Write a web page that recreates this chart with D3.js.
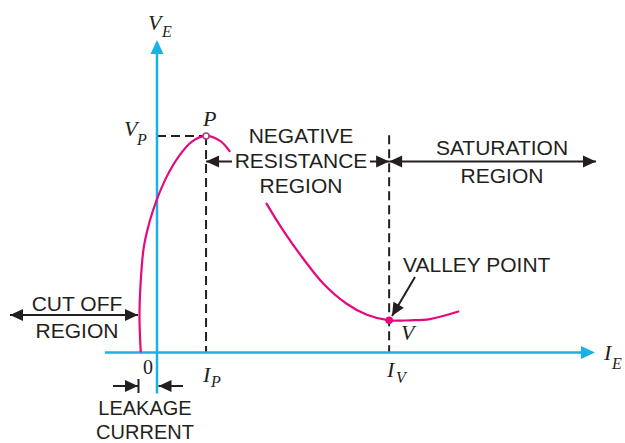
<!DOCTYPE html>
<meta charset="utf-8">
<script src="https://d3js.org/d3.v7.min.js"></script>
<style>
  body { margin: 0; background: #fff; }
  .lbl { font-family: "Liberation Sans", Arial, sans-serif; font-size: 21px; fill: #231f20; }
  .math { font-family: "Liberation Serif", "Times New Roman", serif; font-style: italic; fill: #231f20; }
</style>
<div id="my_dataviz"></div>
<script>

// UJT characteristic, emitter current I_E (x) vs emitter voltage V_E (y), arbitrary units 0..100
var curveRise = [
  [-3.7, 0], [-4.0, 11.3], [-3.7, 23.1], [-3.0, 33.8], [-1.6, 42.3], [-0.1, 48.7],
  [2.2, 56.2], [4.9, 62.6], [7.9, 67.4], [11.2, 69.3], [14.4, 67.7], [16.7, 64.2]
];
var curveFall = [
  [24.9, 47.9], [28.8, 39.1], [33.4, 30.0], [38.0, 22.0], [43.3, 15.6], [47.9, 12.1],
  [53.0, 10.3], [57.8, 10.3], [62.3, 10.7], [69.0, 13.2]
];
var peakPoint = [11.2, 69.3];     // P  (I_P, V_P)
var valleyPoint = [53.0, 10.3];   // V  (I_V, V_V)
var axisExtentX = [-11.9, 100];
var axisExtentY = [-13.1, 100];

var negLines = ["NEGATIVE", "RESISTANCE", "REGION"];
var satLines = ["SATURATION", "REGION"];
var cutLines = ["CUT OFF", "REGION"];
var leakLines = ["LEAKAGE", "CURRENT"];

var width = 625, height = 443;
var pink = "#e5097f", blue = "#1bb1e7", ink = "#231f20";

var svg = d3.select("#my_dataviz")
  .append("svg")
    .attr("width", width)
    .attr("height", height);

var x = d3.scaleLinear().domain([0, 100]).range([157, 595]);
var y = d3.scaleLinear().domain([0, 100]).range([352.5, 40]);

// filled arrow head with tip at (tx,ty) pointing along angle
function head(tx, ty, ang, len, hw, color) {
  var c = Math.cos(ang), s = Math.sin(ang);
  var bx = tx - c * len, by = ty - s * len;
  svg.append("path")
    .attr("d", "M" + tx + "," + ty +
      "L" + (bx - s * hw) + "," + (by + c * hw) +
      "L" + (bx + s * hw) + "," + (by - c * hw) + "Z")
    .attr("fill", color);
}
function arrowLine(x1, y1, x2, y2, startHead, endHead) {
  svg.append("line")
    .attr("x1", x1).attr("y1", y1).attr("x2", x2).attr("y2", y2)
    .attr("stroke", ink).attr("stroke-width", 2);
  var ang = Math.atan2(y2 - y1, x2 - x1);
  if (endHead) head(x2, y2, ang, 13, 6, ink);
  if (startHead) head(x1, y1, ang + Math.PI, 13, 6, ink);
}

// dashed guides
svg.append("line")
  .attr("x1", x(0)).attr("x2", x(peakPoint[0]))
  .attr("y1", y(peakPoint[1])).attr("y2", y(peakPoint[1]))
  .attr("stroke", ink).attr("stroke-width", 2).attr("stroke-dasharray", "9,5");
svg.append("line")
  .attr("x1", x(peakPoint[0])).attr("x2", x(peakPoint[0]))
  .attr("y1", y(peakPoint[1])).attr("y2", y(0))
  .attr("stroke", ink).attr("stroke-width", 2).attr("stroke-dasharray", "9,5");
svg.append("line")
  .attr("x1", x(valleyPoint[0])).attr("x2", x(valleyPoint[0]))
  .attr("y1", y(69.5)).attr("y2", y(0))
  .attr("stroke", ink).attr("stroke-width", 2).attr("stroke-dasharray", "9,5");

// axes
svg.append("line")
  .attr("x1", x(axisExtentX[0])).attr("x2", x(axisExtentX[1]) - 10)
  .attr("y1", y(0)).attr("y2", y(0))
  .attr("stroke", blue).attr("stroke-width", 2.5);
head(x(axisExtentX[1]), y(0), 0, 14, 6.5, blue);
svg.append("line")
  .attr("x1", x(0)).attr("x2", x(0))
  .attr("y1", y(axisExtentY[0])).attr("y2", y(axisExtentY[1]) + 10)
  .attr("stroke", blue).attr("stroke-width", 2.5);
head(x(0), y(axisExtentY[1]), -Math.PI / 2, 14, 6.5, blue);

// characteristic curve (broken where the label sits)
var line = d3.line()
  .x(function(d) { return x(d[0]); })
  .y(function(d) { return y(d[1]); })
  .curve(d3.curveCatmullRom.alpha(0.5));
[curveRise, curveFall].forEach(function(seg) {
  svg.append("path")
    .attr("d", line(seg))
    .attr("fill", "none")
    .attr("stroke", pink)
    .attr("stroke-width", 2.2);
});

svg.append("circle")
  .attr("cx", x(peakPoint[0])).attr("cy", y(peakPoint[1])).attr("r", 3)
  .attr("fill", "#fff").attr("stroke", "#a3407f").attr("stroke-width", 1.5);
svg.append("circle")
  .attr("cx", x(valleyPoint[0])).attr("cy", y(valleyPoint[1])).attr("r", 3.8)
  .attr("fill", pink);

// region arrows
arrowLine(232, 161.5, x(peakPoint[0]), 161.5, false, true);
arrowLine(370, 161.5, x(valleyPoint[0]), 161.5, false, true);
arrowLine(x(valleyPoint[0]), 161.5, 596, 161.5, true, true);
arrowLine(10, 315, 138, 315, true, true);
arrowLine(415, 277, 392, 316, false, true);
// leakage arrows
arrowLine(113, 386, 138, 386, false, true);
svg.append("line").attr("x1", 138.5).attr("x2", 138.5).attr("y1", 379).attr("y2", 393)
  .attr("stroke", ink).attr("stroke-width", 2);
arrowLine(183, 386, 158.5, 386, false, true);

// text blocks
function block(lines, cx, y0, dy, size) {
  svg.append("g").selectAll("text").data(lines).enter().append("text")
    .attr("class", "lbl")
    .attr("text-anchor", "middle")
    .attr("x", cx)
    .attr("y", function(d, i) { return y0 + i * dy; })
    .style("font-size", (size || 21) + "px")
    .text(function(d) { return d; });
}
block(negLines, 301, 143, 25);
block(satLines, 502, 155, 28);
block(cutLines, 77, 311, 27);
block(leakLines, 145, 415, 24, 20);
svg.append("text").attr("class", "lbl").attr("x", 403).attr("y", 272).text("VALLEY POINT");

// math labels
function mathLabel(main, sub, mx, my, sx, sy) {
  svg.append("text").attr("class", "math").attr("font-size", 22)
    .attr("x", mx).attr("y", my).text(main);
  if (sub) svg.append("text").attr("class", "math").attr("font-size", 16)
    .attr("x", sx).attr("y", sy).text(sub);
}
mathLabel("V", "E", 148, 30, 162, 37);
mathLabel("V", "P", 124, 136, 137, 145);
mathLabel("P", null, 203, 126);
mathLabel("I", "P", 203, 382, 211, 387);
mathLabel("I", "V", 387, 377, 396, 383);
mathLabel("I", "E", 604, 360, 612, 369);
mathLabel("V", null, 401, 340);
svg.append("text").attr("x", 148).attr("y", 374).attr("text-anchor", "middle")
  .style("font-family", "'Liberation Serif', 'Times New Roman', serif")
  .style("font-size", "20px").style("fill", ink).text("0");

</script>
